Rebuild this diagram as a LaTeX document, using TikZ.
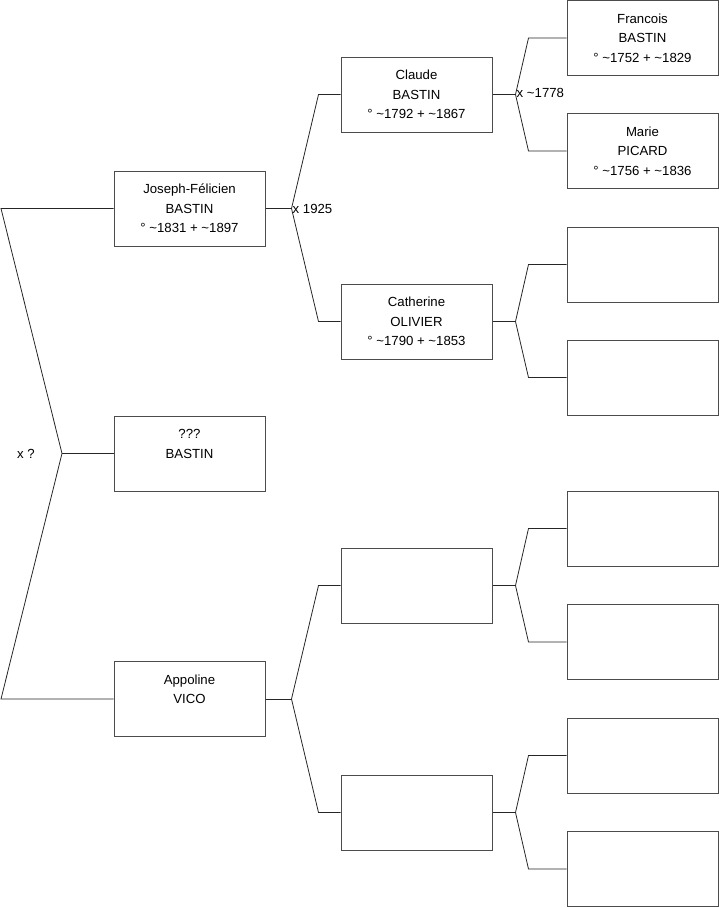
\documentclass[tikz,border=0pt]{standalone}
\usepackage{fontspec}
\setmainfont{Liberation Sans}
\usetikzlibrary{positioning,calc}

\tikzset{
  personbox/.style={draw=black!70, line width=1pt, rectangle, minimum width=151pt,
    minimum height=75pt, align=center, inner sep=0pt,
    font=\fontsize{13.2}{19.6}\selectfont},
  link/.style={draw=black!85, line width=0.8pt},
  wedlabel/.style={font=\fontsize{13.2}{15}\selectfont, inner sep=1pt}
}

\begin{document}
\begin{tikzpicture}[x=1pt, y=-1pt]
    \useasboundingbox (0,0) rectangle (719,908);

    % Generation 1
    \node[personbox] (josephf) at (189.5,208.5) {Joseph-Félicien\\BASTIN\\° \textasciitilde1831 + \textasciitilde1897};
    \node[personbox] (inconnu) at (189.5,453.5) {???\\BASTIN\\ };
    \node[personbox] (appoline) at (189.5,699) {Appoline\\VICO\\ };

    % Generation 2
    \node[personbox] (claude) at (416.5,94.5) {Claude\\BASTIN\\° \textasciitilde1792 + \textasciitilde1867};
    \node[personbox] (catherine) at (416.5,321.5) {Catherine\\OLIVIER\\° \textasciitilde1790 + \textasciitilde1853};
    \node[personbox] (vicof) at (416.5,585.5) {};
    \node[personbox] (vicom) at (416.5,812.5) {};

    % Generation 3
    \node[personbox] (francois) at (642.5,38) {Francois\\BASTIN\\° \textasciitilde1752 + \textasciitilde1829};
    \node[personbox] (marie) at (642.5,151) {Marie\\PICARD\\° \textasciitilde1756 + \textasciitilde1836};
    \foreach \name/\y in {olivf/264.5, olivm/377.5, vfa/528.5, vfb/642, vma/755.5, vmb/869}
        \node[personbox] (\name) at (642.5,\y) {};

    % Fork for the first couple
    \coordinate (top0) at (1,208.5);
    \coordinate (bot0) at (1,699);
    \coordinate (fork0) at (62,453.5);
    \draw[link] (josephf.west) -- (top0) -- (fork0) -- (bot0) -- (appoline.west);
    \draw[link] (fork0) -- (inconnu.west);
    \node[wedlabel, left=26pt of fork0] (wed0) {x ?};

    % Forks of generation 2
    \foreach \child/\dad/\mum in {josephf/claude/catherine, appoline/vicof/vicom} {
        \coordinate (k\child) at ($(\child.east)+(26,0)$);
        \draw[link] (\child.east) -- (k\child);
        \draw[link] (\dad.west) -- ++(-22,0) -- (k\child) -- ($(\mum.west)+(-22,0)$) -- (\mum.west);
    }
    \node[wedlabel, anchor=west] (wed1) at (kjosephf) {x 1925};

    % Forks of generation 3
    \foreach \child/\dad/\mum in {claude/francois/marie, catherine/olivf/olivm,
                                  vicof/vfa/vfb, vicom/vma/vmb} {
        \coordinate (k\child) at ($(\child.east)+(23,0)$);
        \draw[link] (\child.east) -- (k\child);
        \draw[link] (\dad.west) -- ++(-38,0) -- (k\child) -- ($(\mum.west)+(-38,0)$) -- (\mum.west);
    }
    \node[wedlabel, anchor=west] (wed2) at ($(kclaude)+(0,-2)$) {x \textasciitilde1778};
\end{tikzpicture}
\end{document}
